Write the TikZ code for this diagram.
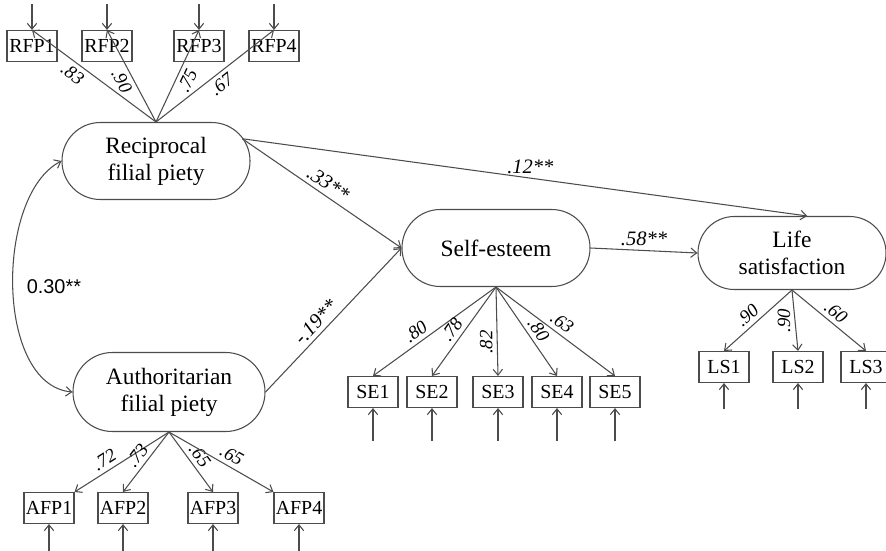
\documentclass[tikz,border=0pt]{standalone}
\usepackage{fontspec}
\setmainfont{Liberation Serif}
\newfontfamily\arialfont{Liberation Sans}
\usetikzlibrary{arrows.meta}
\definecolor{linegray}{gray}{0.3}
\begin{document}
\begin{tikzpicture}[x=0.03cm, y=-0.03cm,
  >={Straight Barb[length=5pt,width=8pt]},
  conn/.style={->, draw=linegray, line width=0.9pt},
  latent/.style={rectangle, rounded corners=1.15cm, draw=linegray, line width=0.9pt,
    minimum width=5.64cm, minimum height=2.31cm, align=center,
    font=\fontsize{20}{23}\selectfont},
  indicator/.style={rectangle, draw=linegray, line width=0.9pt, inner sep=0pt,
    minimum width=1.5cm, minimum height=0.93cm, font=\fontsize{17}{17}\selectfont},
  load/.style={font=\fontsize{16}{16}\selectfont\itshape, inner sep=3.5pt},
  coef/.style={font=\fontsize{17.5}{17.5}\selectfont\itshape, inner sep=3.5pt}]
  \useasboundingbox (0,0) rectangle (886,550);

  % latent variables
  \node[latent] (rfp) at (156,161) {Reciprocal\\filial piety};
  \node[latent, minimum width=5.76cm, minimum height=2.37cm, rounded corners=1.18cm] (afp)
    at (169,392) {Authoritarian\\filial piety};
  \node[latent] (se) at (496,248) {Self-esteem};
  \node[latent, minimum height=2.19cm, rounded corners=1.09cm] (ls) at (792,253) {Life\\satisfaction};
  \coordinate (rfpout) at ([xshift=-7pt, yshift=19pt]rfp.east);

  % indicators and their error terms
  \foreach \i/\x in {1/32, 2/107, 3/199, 4/274} {
    \node[indicator] (rfp\i) at (\x,46) {RFP\i};
    \coordinate (erfp\i) at (\x,4);
    \draw[conn] (erfp\i) -- (rfp\i);
  }
  \foreach \i/\x in {1/49, 2/123, 3/213, 4/299} {
    \node[indicator] (afp\i) at (\x,508) {AFP\i};
    \coordinate (eafp\i) at (\x,552);
    \draw[conn] (eafp\i) -- (afp\i);
  }
  \foreach \i/\x in {1/373, 2/432, 3/498, 4/557, 5/615} {
    \node[indicator] (se\i) at (\x,392) {SE\i};
    \coordinate (ese\i) at (\x,441);
    \draw[conn] (ese\i) -- (se\i);
  }
  \foreach \i/\x in {1/724, 2/798, 3/866} {
    \node[indicator] (ls\i) at (\x,367) {LS\i};
    \coordinate (els\i) at (\x,409);
    \draw[conn] (els\i) -- (ls\i);
  }

  % loadings
  \foreach \i/\p/\l in {1/0.62/.83, 2/0.5/.90, 3/0.5/.75, 4/0.5/.67}
    \draw[conn] (rfp.north) -- node[load, pos=\p, sloped, below] {\l} (rfp\i.north);
  \foreach \i/\a/\p/\l in {1/north east/0.62/.72, 2/north/0.5/.73, 3/north/0.5/.65, 4/north west/0.55/.65}
    \draw[conn] (afp.south) -- node[load, pos=\p, sloped, above] {\l} (afp\i.\a);
  \foreach \i/\p/\l in {1/0.6/.80, 2/0.55/.78, 4/0.55/.80, 5/0.5/.63}
    \draw[conn] (se.south) -- node[load, pos=\p, sloped, above] {\l} (se\i.north);
  \draw[conn] (se.south) -- node[load, pos=0.62, rotate=90, anchor=south] {.82} (se3.north);
  \draw[conn] (ls.south) -- node[load, pos=0.55, sloped, above] {.90} (ls1.north);
  \draw[conn] (ls.south) -- node[load, pos=0.5, rotate=90, anchor=south] {.90} (ls2.north);
  \draw[conn] (ls.south) -- node[load, pos=0.5, sloped, above] {.60} (ls3.north);

  % structural paths
  \draw[conn] (rfpout) -- node[coef, pos=0.5, sloped, above] {.33**} (se.west);
  \draw[conn] (afp.east) -- node[coef, pos=0.43, sloped, above] {-.19**} (se.west);
  \draw[conn] (rfpout) -- node[coef, pos=0.51, above] {.12**} ([xshift=13pt]ls.north);
  \draw[conn] (se.east) -- node[coef, pos=0.5, above] {.58**} (ls.west);

  % covariance
  \draw[conn, <->] (rfp.west) .. controls (-5,195) and (-5,385) ..
    node[pos=0.5, right=8pt, font=\arialfont\fontsize{17}{17}\selectfont] {0.30**} (afp.west);
\end{tikzpicture}
\end{document}
